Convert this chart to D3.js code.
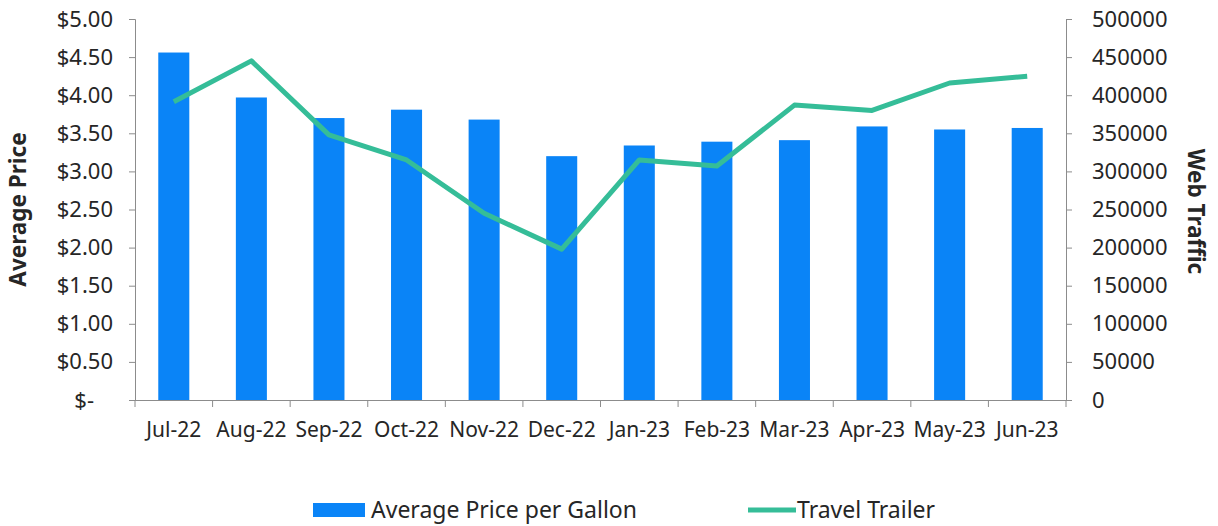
<!DOCTYPE html>
<html>
<head>
<meta charset="utf-8">
<script src="https://cdn.jsdelivr.net/npm/d3@7"></script>
<style>
  body { margin: 0; background: #fff; }
  svg text { font-family: "Noto Sans", sans-serif; fill: #262626; }
  .axis path, .axis line { stroke: #8c8c8c; }
</style>
</head>
<body>
<svg id="chart"></svg>
<script>
'use strict';

var months = ['Jul-22', 'Aug-22', 'Sep-22', 'Oct-22', 'Nov-22', 'Dec-22',
              'Jan-23', 'Feb-23', 'Mar-23', 'Apr-23', 'May-23', 'Jun-23'];
var pricePerGallon = [4.56, 3.97, 3.70, 3.81, 3.68, 3.20, 3.34, 3.39, 3.41, 3.59, 3.55, 3.57];
var travelTrailer = [391500, 445000, 348000, 315000, 245000, 198000, 315000, 307000, 387000, 380000, 416000, 425000];
var priceTicks = [0, 0.5, 1, 1.5, 2, 2.5, 3, 3.5, 4, 4.5, 5];
var trafficTicks = [0, 50000, 100000, 150000, 200000, 250000, 300000, 350000, 400000, 450000, 500000];

var W = 1218, H = 526;
var margin = {top: 19, right: 152, bottom: 126, left: 135};
var width = W - margin.left - margin.right;
var height = H - margin.top - margin.bottom;

var barColor = '#0a84f7';
var lineColor = '#35bd98';

var svg = d3.select('#chart').attr('width', W).attr('height', H);
var g = svg.append('g')
  .attr('transform', 'translate(' + margin.left + ',' + margin.top + ')');

var x = d3.scaleBand().domain(months).range([0, width]).paddingInner(0.6).paddingOuter(0.3);
var xAxisScale = d3.scaleBand().domain(months).range([0, width]);
var yLeft = d3.scaleLinear().domain([0, 5]).range([height, 0]);
var yRight = d3.scaleLinear().domain([0, 500000]).range([height, 0]);

// bars
g.selectAll('.bar')
  .data(pricePerGallon)
  .enter().append('rect').attr('class', 'bar')
    .attr('x', function(d, i) { return x(months[i]); })
    .attr('y', function(d) { return yLeft(d); })
    .attr('width', x.bandwidth())
    .attr('height', function(d) { return height - yLeft(d); })
    .attr('fill', barColor);

// line
var line = d3.line()
  .x(function(d, i) { return xAxisScale(months[i]) + xAxisScale.bandwidth() / 2; })
  .y(function(d) { return yRight(d); });

g.append('path')
  .datum(travelTrailer)
  .attr('d', line)
  .attr('fill', 'none')
  .attr('stroke', lineColor)
  .attr('stroke-width', 5)
  .attr('stroke-linejoin', 'round');

// left axis
var leftAxis = g.append('g').attr('class', 'axis')
  .call(d3.axisLeft(yLeft).tickValues(priceTicks).tickSize(6).tickPadding(16)
    .tickFormat(function(v) { return v === 0 ? '$-' : '$' + d3.format('.2f')(v); }));
leftAxis.selectAll('text').style('font-size', '22px');
// accounting style: the zero label sits further left
leftAxis.selectAll('.tick text').filter(function(v) { return v === 0; }).attr('dx', -19);

// right axis
var rightAxis = g.append('g').attr('class', 'axis')
  .attr('transform', 'translate(' + width + ',0)')
  .call(d3.axisRight(yRight).tickValues(trafficTicks).tickSize(6).tickPadding(20)
    .tickFormat(d3.format('d')));
rightAxis.selectAll('text').style('font-size', '22px');

// bottom axis, ticks at category boundaries
var bottomAxis = g.append('g').attr('class', 'axis')
  .attr('transform', 'translate(0,' + height + ')')
  .call(d3.axisBottom(xAxisScale).tickSize(0).tickPadding(22));
bottomAxis.selectAll('text').style('font-size', '21px');
bottomAxis.selectAll('.bound')
  .data(d3.range(months.length + 1))
  .enter().append('line').attr('class', 'bound')
    .attr('x1', function(i) { return i * xAxisScale.step(); })
    .attr('x2', function(i) { return i * xAxisScale.step(); })
    .attr('y1', 0).attr('y2', 7)
    .attr('stroke', '#8c8c8c');
bottomAxis.select('.domain').attr('d', 'M0,0.5H' + width);

// axis titles
svg.append('text')
  .attr('transform', 'translate(26,' + (margin.top + height / 2) + ') rotate(-90)')
  .attr('text-anchor', 'middle')
  .style('font-size', '22.5px').style('font-weight', 'bold')
  .text('Average Price');

svg.append('text')
  .attr('transform', 'translate(1188,' + (margin.top + height / 2 + 2) + ') rotate(90)')
  .attr('text-anchor', 'middle')
  .style('font-size', '22.5px').style('font-weight', 'bold')
  .text('Web Traffic');

// legend
var legend = svg.append('g').attr('transform', 'translate(0,510)');
legend.append('rect')
  .attr('x', 313).attr('y', -7).attr('width', 52).attr('height', 14)
  .attr('fill', barColor);
legend.append('text')
  .attr('x', 371).attr('y', 0).attr('dy', '0.35em')
  .style('font-size', '23px')
  .text('Average Price per Gallon');
legend.append('line')
  .attr('x1', 748).attr('x2', 796).attr('y1', 0).attr('y2', 0)
  .attr('stroke', lineColor).attr('stroke-width', 5);
legend.append('text')
  .attr('x', 797).attr('y', 0).attr('dy', '0.35em')
  .style('font-size', '23px')
  .text('Travel Trailer');
</script>
</body>
</html>
